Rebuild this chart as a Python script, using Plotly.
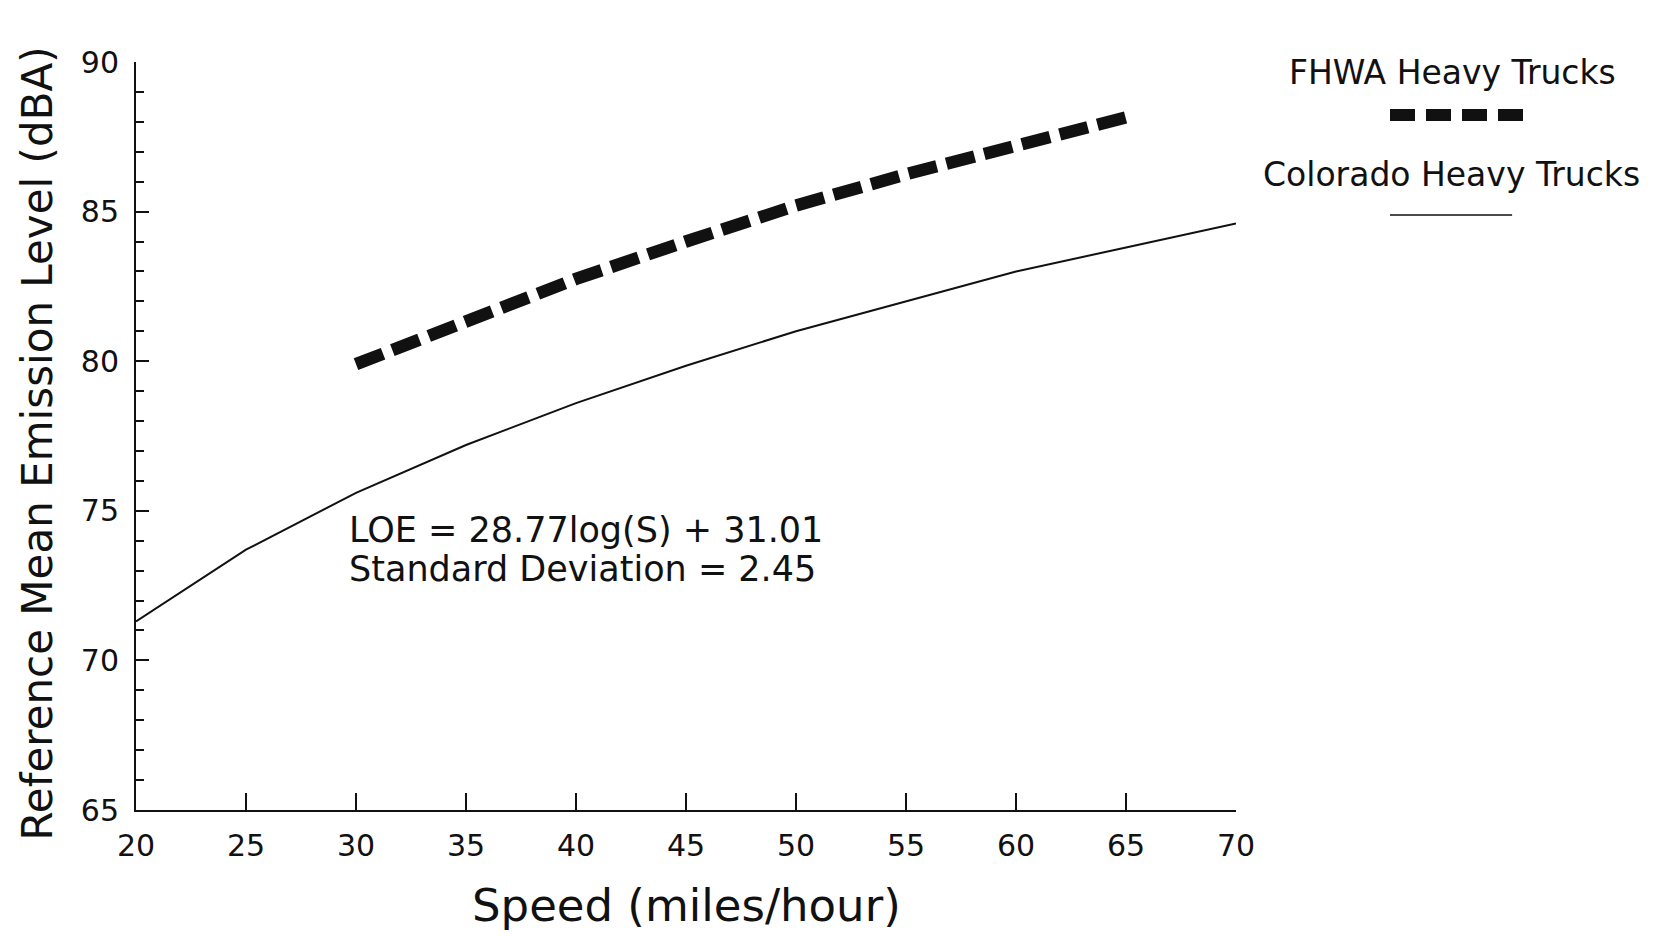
import plotly.graph_objects as go

# ---- data ----
speed_colorado = [20, 25, 30, 35, 40, 45, 50, 55, 60, 65, 70]
level_colorado = [71.3, 73.7, 75.6, 77.2, 78.6, 79.85, 81.0, 82.0, 83.0, 83.8, 84.6]

speed_fhwa = [30, 35, 40, 45, 50, 55, 60, 65]
level_fhwa = [79.9, 81.3, 82.75, 84.0, 85.2, 86.25, 87.25, 88.15]

x_ticks = [20, 25, 30, 35, 40, 45, 50, 55, 60, 65, 70]
y_ticks = [65, 70, 75, 80, 85, 90]

legend_names = ["FHWA Heavy Trucks", "Colorado Heavy Trucks"]
equation_lines = ["LOE = 28.77log(S) + 31.01", "Standard Deviation = 2.45"]

FONT = "DejaVu Sans"
INK = "#111111"

fig = go.Figure()
fig.add_trace(go.Scatter(
    x=speed_fhwa, y=level_fhwa, mode="lines", name=legend_names[0],
    line=dict(color=INK, width=12.5, dash="29px,10px"), showlegend=False))
fig.add_trace(go.Scatter(
    x=speed_colorado, y=level_colorado, mode="lines", name=legend_names[1],
    line=dict(color=INK, width=2), showlegend=False))

fig.update_layout(
    width=1658, height=928,
    margin=dict(l=128, r=430, t=54, b=126, autoexpand=False),
    paper_bgcolor="white", plot_bgcolor="white",
    font=dict(family=FONT, color=INK),
    xaxis=dict(range=[20, 70], tickvals=x_ticks, ticks="inside", ticklen=17,
               tickwidth=1.5, tickcolor=INK, showline=True, linewidth=2,
               linecolor=INK, showgrid=False, zeroline=False,
               tickfont=dict(size=30, family=FONT), ticklabelstandoff=8),
    yaxis=dict(range=[65, 90], tickvals=y_ticks, ticks="inside", ticklen=13,
               tickwidth=1.5, tickcolor=INK, showline=True, linewidth=2,
               linecolor=INK, showgrid=False, zeroline=False,
               tickfont=dict(size=30, family=FONT), ticklabelstandoff=9,
               minor=dict(dtick=1, ticks="inside", ticklen=8, tickwidth=1.5,
                          tickcolor=INK, showgrid=False)),
)

# axis titles
fig.add_annotation(text="Speed (miles/hour)", xref="paper", yref="paper",
                   x=0.5, y=-0.128, xanchor="center", yanchor="middle",
                   showarrow=False, font=dict(size=45, family=FONT, color=INK))
fig.add_annotation(text="Reference Mean Emission Level (dBA)", xref="paper", yref="paper",
                   x=-0.090, y=0.49, xanchor="center", yanchor="middle", textangle=-90,
                   showarrow=False, borderpad=0,
                   font=dict(size=42, family=FONT, color=INK))

# equation text
fig.add_annotation(text=equation_lines[0], xref="x", yref="y", x=29.6, y=74.35,
                   xanchor="left", yanchor="middle", showarrow=False,
                   font=dict(size=35, family=FONT, color=INK))
fig.add_annotation(text=equation_lines[1], xref="x", yref="y", x=29.6, y=73.05,
                   xanchor="left", yanchor="middle", showarrow=False,
                   font=dict(size=35, family=FONT, color=INK))

# legend (text above sample line)
fig.add_annotation(text=legend_names[0], xref="paper", yref="paper", x=1.197, y=0.9866,
                   xanchor="center", yanchor="middle", showarrow=False,
                   font=dict(size=33, family=FONT, color=INK))
fig.add_annotation(text=legend_names[1], xref="paper", yref="paper", x=1.196, y=0.849,
                   xanchor="center", yanchor="middle", showarrow=False,
                   font=dict(size=33, family=FONT, color=INK))
fig.add_shape(type="line", xref="paper", yref="paper", x0=1.140, x1=1.2645, y0=0.929, y1=0.929,
              line=dict(color=INK, width=12, dash="25px,11px"))
fig.add_shape(type="line", xref="paper", yref="paper", x0=1.140, x1=1.251, y0=0.7955, y1=0.7955,
              line=dict(color=INK, width=1.5))

fig.write_html("out.html")
